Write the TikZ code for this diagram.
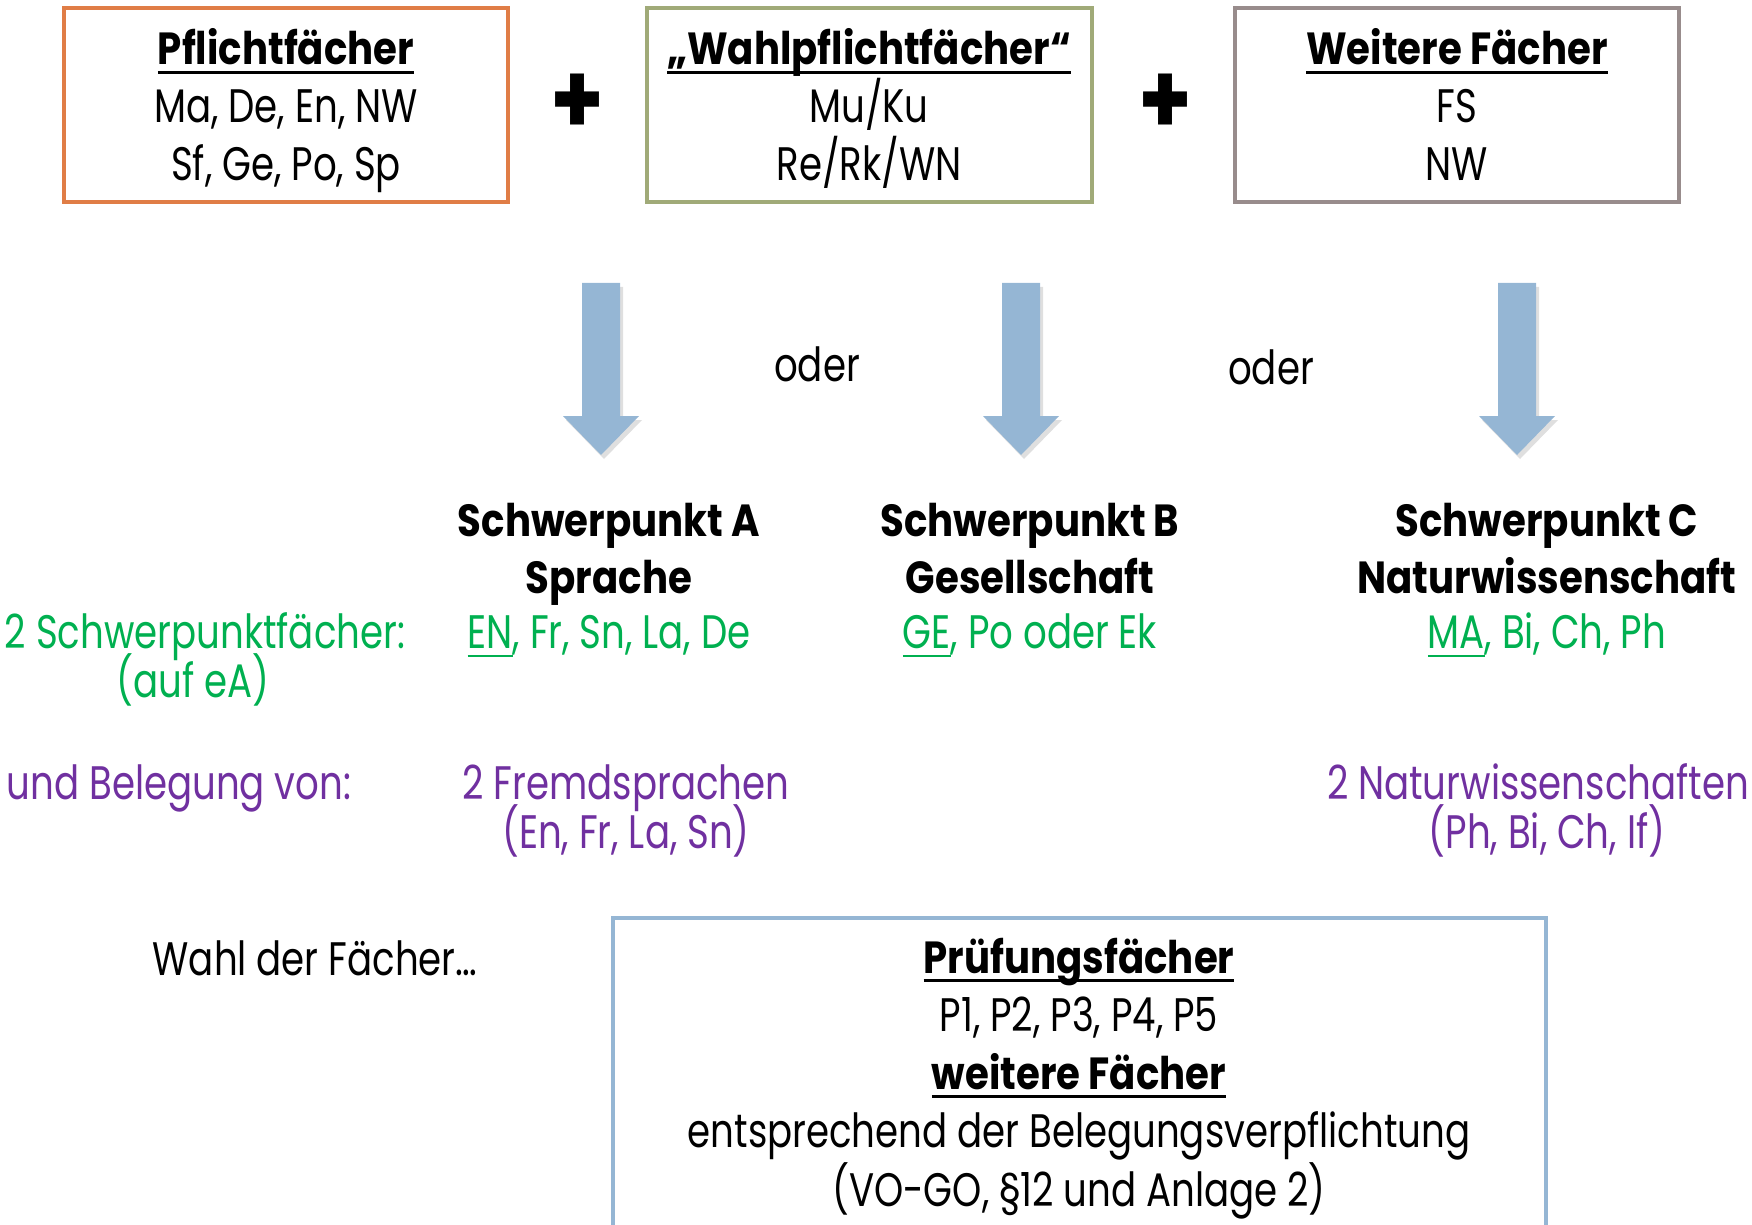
\documentclass[tikz,border=0pt]{standalone}
\usepackage{fontspec}
\setmainfont{Poppins}[FakeStretch=0.79]
\newfontfamily\boldfnt{Poppins}[FakeStretch=0.86]
\usetikzlibrary{shadows}
\definecolor{cOrange}{RGB}{224,125,70}
\definecolor{cOlive}{RGB}{160,170,120}
\definecolor{cGray}{RGB}{152,140,140}
\definecolor{cBlue}{RGB}{149,182,212}
\definecolor{cGreen}{RGB}{0,176,80}
\definecolor{cPurple}{RGB}{112,48,160}
\newcommand{\myul}[2][1.4pt]{\setbox0\hbox{#2}\rlap{\raisebox{-4.5pt}{\rule{\wd0}{#1}}}\box0}
\begin{document}
\begin{tikzpicture}[x=0.5pt,y=-0.5pt,
  txt/.style={anchor=base, inner sep=0pt, font=\fontsize{23.5}{28}\selectfont},
  hd/.style={txt, font=\fontsize{22.5}{27}\boldfnt\bfseries},
  grn/.style={txt, text=cGreen},
  pur/.style={txt, text=cPurple},
  frame/.style={draw=#1, line width=1.6pt, inner sep=0pt},
  blockarrow/.style={fill=cBlue, draw=none, drop shadow={opacity=0.25, shadow xshift=1.5pt, shadow yshift=-2pt}},
  plus/.style={inner sep=0pt, font=\fontsize{50}{50}\boldfnt\bfseries}]
\useasboundingbox (0,0) rectangle (1752,1225);
\clip (0,0) rectangle (1752,1225);

% top boxes
\node[frame=cOrange, minimum width=222pt, minimum height=97pt] (box1) at (286,105) {};
\node[frame=cOlive, minimum width=222.5pt, minimum height=97pt] (box2) at (869.5,105) {};
\node[frame=cGray, minimum width=222pt, minimum height=97pt] (box3) at (1457,105) {};

\node[hd] (t1a) at (286,65) {\myul{Pflichtfächer}};
\node[txt] (t1b) at (286,123) {Ma, De, En, NW};
\node[txt] (t1c) at (286,181) {Sf, Ge, Po, Sp};

\node[hd] (t2a) at (869,65) {\myul{„Wahlpflichtfächer“}};
\node[txt] (t2b) at (869,123) {Mu/Ku};
\node[txt] (t2c) at (869,181) {Re/Rk/WN};

\node[hd] (t3a) at (1457,65) {\myul{Weitere Fächer}};
\node[txt] (t3b) at (1457,123) {FS};
\node[txt] (t3c) at (1457,181) {NW};

\node[plus] (p1) at (577,104) {+};
\node[plus] (p2) at (1165,104) {+};

% block arrows
\foreach \cx/\nm in {601/arA, 1021/arB, 1517/arC}{
  \path[blockarrow] (\cx-19,283) -- (\cx+19,283) -- (\cx+19,416) -- (\cx+38,416)
     -- (\cx,455) -- (\cx-38,416) -- (\cx-19,416) -- cycle;
  \coordinate (\nm) at (\cx,455);
}

\node[txt] (oder1) at (817,381) {oder};
\node[txt] (oder2) at (1271,385) {oder};

% Schwerpunkte
\node[hd] (sa1) at (609,536) {Schwerpunkt A};
\node[hd] (sa2) at (609,593) {Sprache};
\node[grn] (sa3) at (609,648) {\myul[1pt]{EN}, Fr, Sn, La, De};

\node[hd] (sb1) at (1030,536) {Schwerpunkt B};
\node[hd] (sb2) at (1030,593) {Gesellschaft};
\node[grn] (sb3) at (1030,648) {\myul[1pt]{GE}, Po oder Ek};

\node[hd] (sc1) at (1547,536) {Schwerpunkt C};
\node[hd] (sc2) at (1547,593) {Naturwissenschaft};
\node[grn] (sc3) at (1547,648) {\myul[1pt]{MA}, Bi, Ch, Ph};

% left labels
\node[grn] (l1) at (205,648) {2 Schwerpunktfächer:};
\node[grn] (l2) at (193,697) {(auf eA)};
\node[pur] (l3) at (179,799) {und Belegung von:};

\node[pur] (fa1) at (626,799) {2 Fremdsprachen};
\node[pur] (fa2) at (626,848) {(En, Fr, La, Sn)};
\node[pur] (fc1) at (1538,799) {2 Naturwissenschaften};
\node[pur] (fc2) at (1547,848) {(Ph, Bi, Ch, If)};

\node[txt] (wahl) at (315,975) {Wahl der Fächer…};

% bottom box
\draw[draw=cBlue, line width=1.6pt] (613,1240) -- (613,918) -- (1546,918) -- (1546,1240);
\coordinate (box4) at (1079,918);
\node[hd] (b1) at (1079,973) {\myul{Prüfungsfächer}};
\node[txt] (b2) at (1079,1031) {P1, P2, P3, P4, P5};
\node[hd] (b3) at (1079,1089) {\myul{weitere Fächer}};
\node[txt] (b4) at (1079,1147) {entsprechend der Belegungsverpflichtung};
\node[txt] (b5) at (1079,1206) {(VO-GO, §12 und Anlage 2)};
\end{tikzpicture}
\end{document}
